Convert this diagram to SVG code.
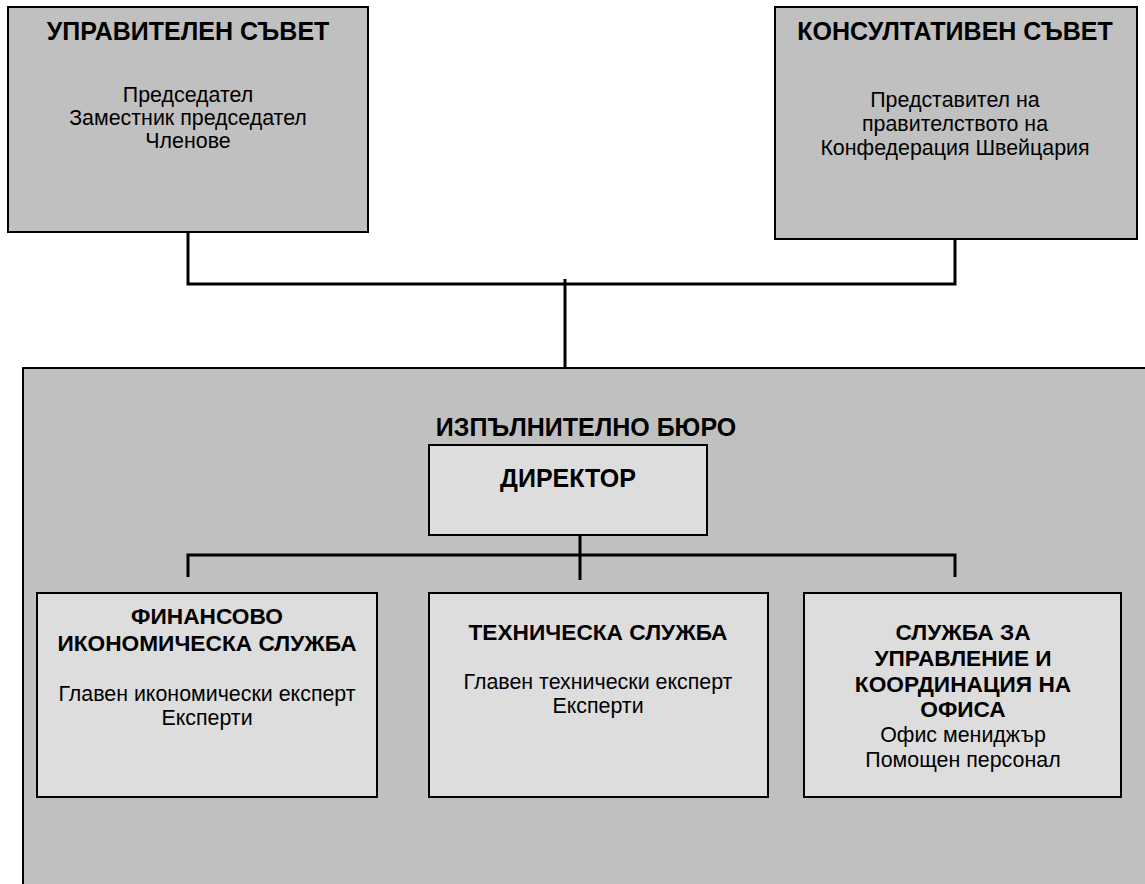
<svg xmlns="http://www.w3.org/2000/svg" width="1145" height="884" viewBox="0 0 1145 884">
<style>
.outer{fill:#c0c0c0;stroke:#000;stroke-width:2}
.inner{fill:#dddddd;stroke:#000;stroke-width:2}
.t{font-family:"Liberation Sans",Arial,sans-serif;font-weight:bold;font-size:22.7px;fill:#000;text-anchor:middle}
.h{font-family:"Liberation Sans",Arial,sans-serif;font-weight:bold;font-size:25px;fill:#000;text-anchor:middle}
.b{font-family:"Liberation Sans",Arial,sans-serif;font-size:21.4px;fill:#000;text-anchor:middle}
.c{fill:none;stroke:#000;stroke-width:3}
</style>
<rect width="1145" height="884" fill="#fff"/>
<g id="exec">
<rect class="outer" x="23" y="368" width="1140" height="540"/>
<text class="h" x="586" y="436">ИЗПЪЛНИТЕЛНО БЮРО</text>
</g>
<g id="connectors">
<path class="c" d="M188 232 V284 H955 V239"/>
<path class="c" d="M565 279 V368"/>
<path class="c" d="M580 535 V580 M188 577 V555 H955 V577"/>
</g>
<g id="board">
<rect class="outer" x="8" y="7" width="360" height="225"/>
<text class="h" x="188" y="40">УПРАВИТЕЛЕН СЪВЕТ</text>
<text class="b" x="188" y="102">Председател</text>
<text class="b" x="188" y="125">Заместник председател</text>
<text class="b" x="188" y="148">Членове</text>
</g>
<g id="advisory">
<rect class="outer" x="775" y="7" width="362" height="232"/>
<text class="h" x="955" y="40">КОНСУЛТАТИВЕН СЪВЕТ</text>
<text class="b" x="955" y="107">Представител на</text>
<text class="b" x="955" y="131">правителството на</text>
<text class="b" x="955" y="155">Конфедерация Швейцария</text>
</g>
<g id="director">
<rect class="inner" x="429" y="445" width="278" height="90"/>
<text class="h" x="568" y="487">ДИРЕКТОР</text>
</g>
<g id="finance">
<rect class="inner" x="37" y="593" width="340" height="204"/>
<text class="t" x="207" y="624">ФИНАНСОВО</text>
<text class="t" x="207" y="651">ИКОНОМИЧЕСКА СЛУЖБА</text>
<text class="b" x="207" y="701">Главен икономически експерт</text>
<text class="b" x="207" y="725">Експерти</text>
</g>
<g id="technical">
<rect class="inner" x="429" y="593" width="339" height="204"/>
<text class="t" x="598" y="640">ТЕХНИЧЕСКА СЛУЖБА</text>
<text class="b" x="598" y="689">Главен технически експерт</text>
<text class="b" x="598" y="713">Експерти</text>
</g>
<g id="office">
<rect class="inner" x="804" y="593" width="317" height="204"/>
<text class="t" x="963" y="640">СЛУЖБА ЗА</text>
<text class="t" x="963" y="666">УПРАВЛЕНИЕ И</text>
<text class="t" x="963" y="692">КООРДИНАЦИЯ НА</text>
<text class="t" x="963" y="717">ОФИСА</text>
<text class="b" x="963" y="742">Офис мениджър</text>
<text class="b" x="963" y="767">Помощен персонал</text>
</g>
</svg>
